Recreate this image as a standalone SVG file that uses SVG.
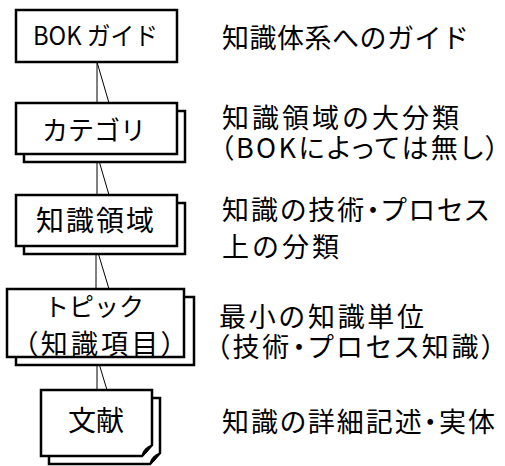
<svg xmlns="http://www.w3.org/2000/svg" width="505" height="466" viewBox="0 0 505 466">
<style>
.box{fill:#fff;stroke:#000;stroke-width:2.5}
.con{fill:none;stroke:#000;stroke-width:1}
.curl{fill:#000;stroke:#000;stroke-width:1}
text{font-family:"Noto Sans CJK JP","Noto Sans",sans-serif;fill:#000}
.rt{font-size:27px}
.p{font-feature-settings:"palt"}
.m{text-anchor:middle}
</style>
<rect width="505" height="466" fill="#fff"/>
<g id="connectors">
<path class="con" d="M97,62 V103 M97,62 L109,103"/>
<path class="con" d="M97,154 V195 M97,154 L109,195"/>
<path class="con" d="M96,246 V289 M96,246 L109,289"/>
<path class="con" d="M97,357 V390 M97,357 L107,390"/>
</g>
<g id="bok">
<rect class="box" x="16" y="10" width="161" height="52"/>
<text x="33" y="45" font-size="25" textLength="125" lengthAdjust="spacingAndGlyphs">BOK ガイド</text>
</g>
<g id="category">
<rect class="box" x="24" y="111" width="161" height="51"/>
<rect class="box" x="16" y="103" width="161" height="51"/>
<text class="m" x="94" y="140" font-size="26">カテゴリ</text>
</g>
<g id="area">
<rect class="box" x="24" y="203" width="161" height="51"/>
<rect class="box" x="16" y="195" width="161" height="51"/>
<text x="36" y="231" font-size="28" textLength="118" lengthAdjust="spacing">知識領域</text>
</g>
<g id="topic">
<rect class="box" x="16" y="297" width="178" height="68"/>
<rect class="box" x="7" y="289" width="177" height="68"/>
<text class="m" x="94" y="316" font-size="25">トピック</text>
<text class="p" x="24" y="354" font-size="27" textLength="151" lengthAdjust="spacing">（知識項目）</text>
</g>
<g id="document">
<path class="box" d="M49,398 H160 V453 L150,464 H49 Z"/>
<path class="curl" d="M150,464 Q151,456 160,453 Q156,456 155,460 Z"/>
<path class="box" d="M41,390 H152 V445 L142,456 H41 Z"/>
<path class="curl" d="M142,456 Q143,448 152,445 Q148,448 147,452 Z"/>
<text class="m" x="96" y="431" font-size="28">文献</text>
</g>
<g id="descriptions">
<text class="rt" x="222" y="48" textLength="247" lengthAdjust="spacing">知識体系へのガイド</text>
<text class="rt" x="222" y="128" textLength="237" lengthAdjust="spacing">知識領域の大分類</text>
<text class="rt p" x="220" y="158" textLength="279" lengthAdjust="spacing">（BOKによっては無し）</text>
<text class="rt p" x="222" y="220" textLength="267" lengthAdjust="spacing">知識の技術・プロセス</text>
<text class="rt" x="222" y="257" textLength="117" lengthAdjust="spacing">上の分類</text>
<text class="rt" x="219" y="327" textLength="205" lengthAdjust="spacing">最小の知識単位</text>
<text class="rt p" x="216" y="357" textLength="279" lengthAdjust="spacing">（技術・プロセス知識）</text>
<text class="rt p" x="222" y="432" textLength="273" lengthAdjust="spacing">知識の詳細記述・実体</text>
</g>
</svg>
